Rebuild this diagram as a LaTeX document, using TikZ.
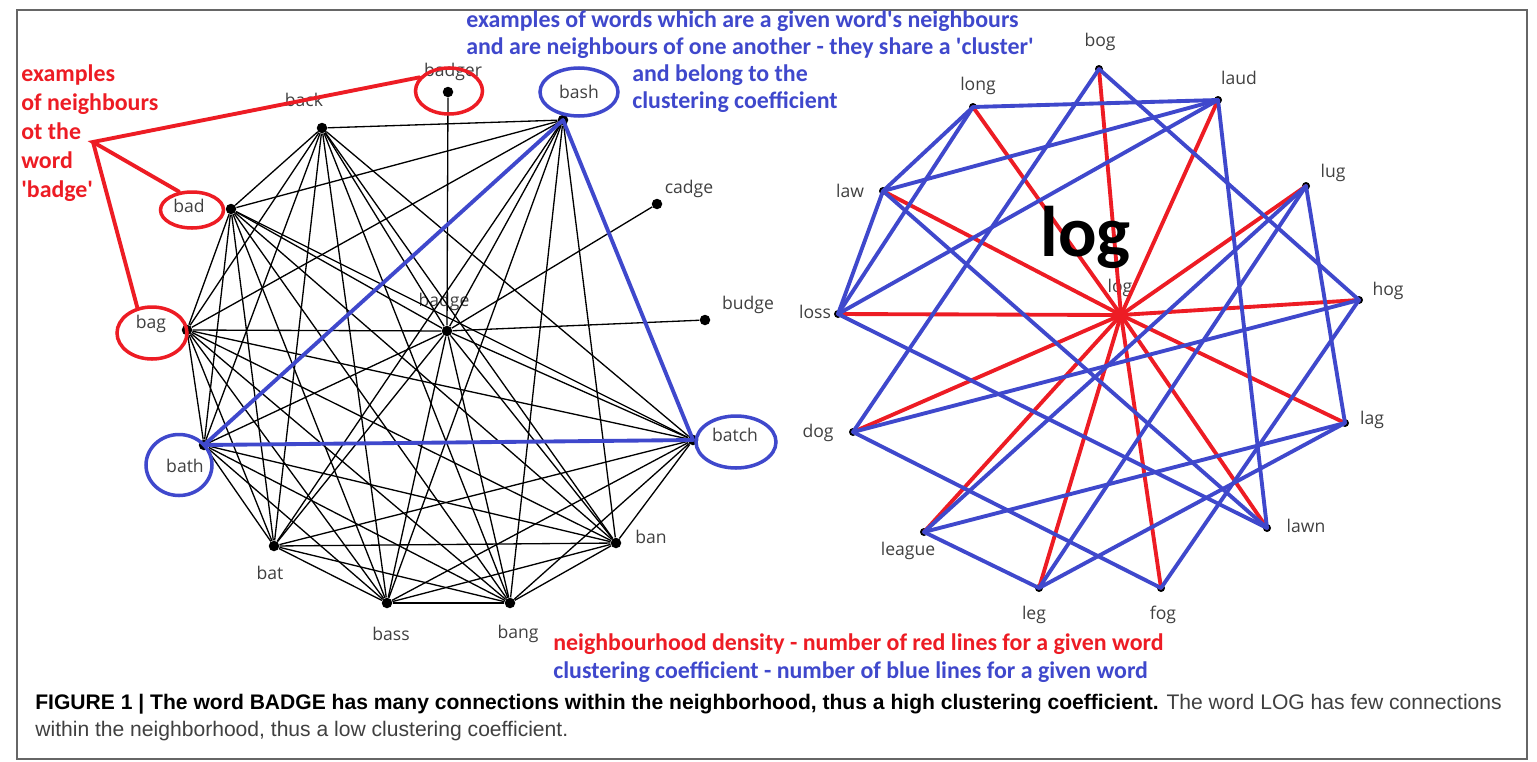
\documentclass[tikz,border=0pt]{standalone}
\usepackage{fontspec}
\setmainfont{Liberation Sans}
\newfontfamily\notefont{Carlito}[Ligatures=TeXOff]
\newfontfamily\wordfont{Open Sans}
\usepackage{tikz}
\usetikzlibrary{positioning}
\usetikzlibrary{shapes.geometric}
\definecolor{paintred}{RGB}{237,28,36}
\definecolor{paintblue}{RGB}{63,72,204}

\begin{document}
\begin{tikzpicture}
    [
    x=0.02cm, y=-0.02cm,
    point/.style={circle,fill=black,inner sep=0pt,minimum size=2.1mm},
    smallpoint/.style={circle,fill=black,inner sep=0pt,minimum size=1.6mm},
    word/.style={text=black!75,font=\wordfont\fontsize{10}{12}\selectfont,inner sep=0pt},
    link/.style={black,line width=0.75pt},
    oldlink/.style={black!80,line width=0.6pt,xshift=0.9pt,yshift=-0.6pt},
    redline/.style={paintred,line width=2.2pt,line cap=round},
    blueline/.style={paintblue,line width=2.2pt,line cap=round,line join=round},
    ring/.style={ellipse,draw,line width=2pt,inner sep=0pt},
    note/.style={font=\notefont\bfseries\fontsize{13.6}{16.4}\selectfont,anchor=base west,inner sep=0pt},
    capline/.style={font=\fontsize{12}{14}\selectfont,anchor=base west,inner sep=0pt}
    ]
    \fill [white] (0,0) rectangle (1537,761);
    \useasboundingbox (0,0) rectangle (1537,761);
    \draw [black!60, line width=0.6pt] (17,10) rectangle (1527,759);

    % BADGE network
    \node (badger) at (448,92) [point] {};
    \node (back) at (322,128) [point] {};
    \node (bash) at (563,120) [point] {};
    \node (cadge) at (657,204) [point] {};
    \node (bad) at (231,209) [point] {};
    \node (badge) at (447,331) [point] {};
    \node (budge) at (705,320) [point] {};
    \node (bag) at (187,330) [point] {};
    \node (bath) at (204,445) [point] {};
    \node (batch) at (693,440) [point] {};
    \node (bat) at (274,546) [point] {};
    \node (ban) at (616,543) [point] {};
    \node (bass) at (387,603) [point] {};
    \node (bang) at (510,603) [point] {};
    \node (badgerw) at (453,72) [word] {badger};
    \node (backw) at (304,100) [word] {back};
    \node (bashw) at (579,92) [word] {bash};
    \node (cadgew) at (689,189) [word] {cadge};
    \node (badw) at (189,206) [word] {bad};
    \node (badgew) at (444,302) [word] {badge};
    \node (budgew) at (748,305) [word] {budge};
    \node (bagw) at (151,324) [word] {bag};
    \node (bathw) at (185,466) [word] {bath};
    \node (batchw) at (735,435) [word] {batch};
    \node (batw) at (270,573) [word] {bat};
    \node (banw) at (651,537) [word] {ban};
    \node (bassw) at (391,634) [word] {bass};
    \node (bangw) at (518,634) [word] {bang};
    \foreach \a [count=\i] in {back,bash,batch,ban,bang,bass,bat,bath,bag,bad}
      \foreach \b [count=\j] in {back,bash,batch,ban,bang,bass,bat,bath,bag,bad}
        {\ifnum\j>\i \draw [link] (\a) -- (\b); \fi}
    \foreach \a in {back,bash,batch,ban,bang,bass,bat,bath,bag,bad,badger,cadge,budge}
      \draw [link] (badge) -- (\a);
    \draw [blueline] (bash.center) -- (bath.center) -- (batch.center) -- cycle;

    % LOG network
    \node (log) at (1121,315) [smallpoint] {};
    \node (bog) at (1099,69) [smallpoint] {};
    \node (long) at (973,107) [smallpoint] {};
    \node (laud) at (1218,100) [smallpoint] {};
    \node (lug) at (1306,186) [smallpoint] {};
    \node (law) at (883,191) [smallpoint] {};
    \node (loss) at (838,314) [smallpoint] {};
    \node (hog) at (1359,300) [smallpoint] {};
    \node (dog) at (853,432) [smallpoint] {};
    \node (lag) at (1345,423) [smallpoint] {};
    \node (lawn) at (1267,528) [smallpoint] {};
    \node (league) at (924,532) [smallpoint] {};
    \node (leg) at (1039,588) [smallpoint] {};
    \node (fog) at (1161,588) [smallpoint] {};
    \node (logw) at (1120,288) [word] {log};
    \node (bogw) at (1100,42) [word] {bog};
    \node (longw) at (978,86) [word] {long};
    \node (laudw) at (1239,78) [word] {laud};
    \node (lugw) at (1333,173) [word] {lug};
    \node (laww) at (850,191) [word] {law};
    \node (lossw) at (815,312) [word] {loss};
    \node (hogw) at (1388,291) [word] {hog};
    \node (dogw) at (818,433) [word] {dog};
    \node (lagw) at (1372,420) [word] {lag};
    \node (lawnw) at (1306,526) [word] {lawn};
    \node (leaguew) at (908,551) [word] {league};
    \node (legw) at (1034,615) [word] {leg};
    \node (fogw) at (1163,615) [word] {fog};
    % traces of the black edges under the colour
    \foreach \a/\b in {log/bog,log/law,log/loss,log/lawn,log/fog,long/laud,laud/lawn,dog/fog}
      \draw [oldlink] (\a.center) -- (\b.center);
    \foreach \a in {bog,long,laud,lug,law,loss,hog,dog,lag,lawn,league,leg,fog}
      \draw [redline] (log.center) -- (\a.center);
    \foreach \a/\b in {long/laud,long/law,long/loss,law/loss,law/laud,loss/laud,
                       bog/hog,bog/dog,laud/lawn,law/lawn,loss/lawn,lug/lag,
                       lug/league,lug/leg,hog/dog,hog/fog,dog/fog,lag/league,
                       lag/leg,league/leg}
      \draw [blueline] (\a.center) -- (\b.center);
    \node (bigLog) at (1040,256) [anchor=base west,inner sep=0pt,font=\notefont\bfseries\fontsize{40.8}{48}\selectfont] {log};

    % annotations
    \node (badgerring) at (449,91) [ring,paintred,minimum width=1.34cm,minimum height=0.92cm] {};
    \node (badring) at (192,210) [ring,paintred,minimum width=1.26cm,minimum height=0.72cm] {};
    \node (bagring) at (152,333) [ring,paintred,minimum width=1.4cm,minimum height=1.04cm] {};
    \node (bashring) at (579,92) [ring,paintblue,minimum width=1.56cm,minimum height=0.96cm] {};
    \node (bathring) at (179,465) [ring,paintblue,minimum width=1.32cm,minimum height=1.22cm] {};
    \node (batchring) at (736,442) [ring,paintblue,minimum width=1.6cm,minimum height=1.04cm] {};
    \coordinate (apex) at (93,142);
    \draw [redline] (badgerring.155) -- (apex) -- (badring.125);
    \draw [redline] (apex) -- (bagring.120);

    \node (red1) at (21,81) [note,paintred] {examples};
    \node (red2) at (21,110) [note,paintred] {of neighbours};
    \node (red3) at (21,139) [note,paintred] {ot the};
    \node (red4) at (21,168) [note,paintred] {word};
    \node (red5) at (21,197) [note,paintred] {'badge'};
    \node (blue1) at (466,27) [note,paintblue] {examples of words which are a given word's neighbours};
    \node (blue2) at (466,54) [note,paintblue] {and are neighbours of one another - they share a 'cluster'};
    \node (blue3) at (632,81) [note,paintblue] {and belong to the};
    \node (blue4) at (632,108) [note,paintblue] {clustering coefficient};
    \node (density) at (553,650) [note,paintred] {neighbourhood density - number of red lines for a given word};
    \node (clustering) at (553,678) [note,paintblue] {clustering coefficient - number of blue lines for a given word};

    % caption
    \node (caption1) at (35,709) [capline] {\textbf{FIGURE 1 | The word BADGE has many connections within the neighborhood, thus a high clustering coefficient.} \textcolor{black!75}{The word LOG has few connections}};
    \node (caption2) at (35,736) [capline,text=black!75] {within the neighborhood, thus a low clustering coefficient.};
\end{tikzpicture}
\end{document}
